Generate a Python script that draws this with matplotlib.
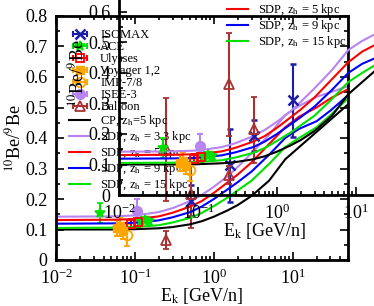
import matplotlib
matplotlib.use('Agg')
import matplotlib.pyplot as plt
from matplotlib.lines import Line2D
from matplotlib.legend_handler import HandlerLine2D, HandlerTuple
import numpy as np

plt.rcParams['font.family'] = ['Liberation Serif', 'DejaVu Serif']
plt.rcParams['mathtext.fontset'] = 'stix'

# model curves, kinetic energy grid [GeV/n]
e_model = [0.01, 0.05, 0.1, 0.2, 0.3, 0.5, 0.7, 1, 1.5, 2, 3, 5, 8, 12, 20, 30, 50]
cp_5 = [0.100, 0.100, 0.101, 0.104, 0.108, 0.117, 0.127, 0.142, 0.163, 0.180, 0.210, 0.260, 0.330, 0.370, 0.420, 0.460, 0.510]
sdp_3_3 = [0.142, 0.143, 0.146, 0.157, 0.170, 0.193, 0.213, 0.240, 0.275, 0.305, 0.350, 0.410, 0.475, 0.505, 0.535, 0.550, 0.570]
sdp_5 = [0.131, 0.132, 0.134, 0.143, 0.155, 0.175, 0.193, 0.220, 0.255, 0.280, 0.320, 0.380, 0.435, 0.470, 0.500, 0.530, 0.560]
sdp_9 = [0.119, 0.120, 0.122, 0.130, 0.140, 0.157, 0.175, 0.200, 0.232, 0.255, 0.290, 0.345, 0.400, 0.430, 0.455, 0.490, 0.540]
sdp_15 = [0.105, 0.106, 0.108, 0.114, 0.123, 0.138, 0.154, 0.177, 0.205, 0.228, 0.260, 0.315, 0.370, 0.400, 0.435, 0.475, 0.530]

# measurements
isomax_e = [0.52, 1.6]
isomax_r = [0.195, 0.31]
isomax_err = [0.05, 0.12]
ace_e = [0.036, 0.12, 0.135, 0.15]
ace_r = [0.155, 0.127, 0.13, 0.128]
ace_err = [0.033, 0.01, 0.01, 0.01]
ulysses_e = [0.09, 0.11]
ulysses_r = [0.118, 0.123]
ulysses_err = [0.015, 0.015]
voyager_e = [0.06, 0.065, 0.07]
voyager_r = [0.105, 0.11, 0.095]
voyager_err = [0.025, 0.03, 0.025]
imp_e = [0.08]
imp_r = [0.082]
imp_err = [0.037]
isee_e = [0.107]
isee_r = [0.162]
isee_err = [0.037]
balloon_e = [0.25, 0.25, 0.52]
balloon_r = [0.065, 0.365, 0.215]
balloon_lo = [0.03, 0.17, 0.11]
balloon_hi = [0.03, 0.165, 0.105]

c_purple = '#b784f0'
c_orange = '#ffa500'
c_brown = '#a83232'
c_navy = '#1c1ca8'
c_lime = '#00e000'

data_sets = [
    ('ISOMAX', isomax_e, isomax_r, isomax_err, dict(marker='x', color=c_navy, ms=7, mew=1.8)),
    ('ACE', ace_e, ace_r, ace_err, dict(marker='*', color=c_lime, ms=7, mew=1.2)),
    ('Ulysses', ulysses_e, ulysses_r, ulysses_err, dict(marker='s', color='red', mfc='none', ms=6, mew=1.3)),
    ('Voyager 1,2', voyager_e, voyager_r, voyager_err, dict(marker='s', color=c_orange, ms=6)),
    ('IMP-7/8', imp_e, imp_r, imp_err, dict(marker='o', color=c_orange, mfc='none', ms=7, mew=1.3)),
    ('ISEE-3', isee_e, isee_r, isee_err, dict(marker='o', color=c_purple, ms=7)),
    ('Balloon', balloon_e, balloon_r, [balloon_lo, balloon_hi], dict(marker='^', color=c_brown, mfc='none', ms=7, mew=1.3)),
]
curves = [
    (r'CP, z$_{\rm h}$=5 kpc', cp_5, 'black'),
    (r'SDP, z$_{\rm h}$ = 3.3 kpc', sdp_3_3, c_purple),
    (r'SDP, z$_{\rm h}$ = 5 kpc', sdp_5, 'red'),
    (r'SDP, z$_{\rm h}$ = 9 kpc', sdp_9, 'blue'),
    (r'SDP, z$_{\rm h}$ = 15 kpc', sdp_15, c_lime),
]


def draw_panel(ax):
    handles, labels, hmap = [], [], {}
    for name, e, r, err, kw in data_sets:
        ax.errorbar(e, r, yerr=err, ls='none', capsize=2.5, elinewidth=1.5, capthick=1.5, **kw)
        # key entry: marker over a horizontal bar with end caps
        bar = Line2D([], [], color=kw['color'], lw=1.5, marker='|', ms=5, mew=1.5)
        mk = Line2D([], [], ls='none', **kw)
        hmap[bar] = HandlerLine2D(numpoints=2)
        hmap[mk] = HandlerLine2D(numpoints=1)
        handles.append((bar, mk))
        labels.append(name)
    for name, vals, col in curves:
        ln, = ax.plot(e_model, vals, color=col, lw=1.5)
        handles.append(ln)
        labels.append(name)
    hmap[tuple] = HandlerTuple(ndivide=1, pad=0)
    ax.set_xscale('log')
    ax.set_xlim(0.01, 50)
    ax.set_ylim(0, 0.8)
    ax.set_yticks(np.arange(0, 0.81, 0.1))
    ax.set_yticklabels(['0', '0.1', '0.2', '0.3', '0.4', '0.5', '0.6', '0.7', '0.8'])
    ax.set_yticks(np.arange(0.05, 0.8, 0.1), minor=True)
    ax.tick_params(which='both', direction='in', top=True, right=True, labelsize=13, width=1.2)
    ax.tick_params(which='major', length=6, pad=6)
    ax.tick_params(which='minor', length=3)
    for s in ax.spines.values():
        s.set_linewidth(2)
    ax.set_xlabel(r'E$_{\rm k}$ [GeV/n]', fontsize=13, labelpad=-1)
    ax.set_ylabel(r'$^{10}$Be/$^{9}$Be', fontsize=13, labelpad=1)
    ax.patch.set_visible(False)
    return handles, labels, hmap


fig = plt.figure(figsize=(3.74, 3.06), dpi=100)
W, H = 374.0, 306.0
ax1 = fig.add_axes([56 / W, 1 - 260 / H, 292 / W, 244 / H])
ax2 = fig.add_axes([119 / W, 1 - 195 / H, 292 / W, 244 / H])

h1, l1, m1 = draw_panel(ax1)
h2, l2, m2 = draw_panel(ax2)

leg_kw = dict(frameon=False, fontsize=9, handlelength=1.7, handletextpad=0.8,
              labelspacing=0.0, borderpad=0, borderaxespad=0)
ax1.legend(h1, l1, handler_map=m1, loc='upper left', bbox_to_anchor=(69 / W, 1 - 29 / H),
           bbox_transform=fig.transFigure, **leg_kw)
ax2.legend(h2, l2, handler_map=m2, loc='lower left', bbox_to_anchor=(227 / W, 1 - 50 / H),
           bbox_transform=fig.transFigure, **leg_kw)

fig.savefig('out.png', dpi=100)
